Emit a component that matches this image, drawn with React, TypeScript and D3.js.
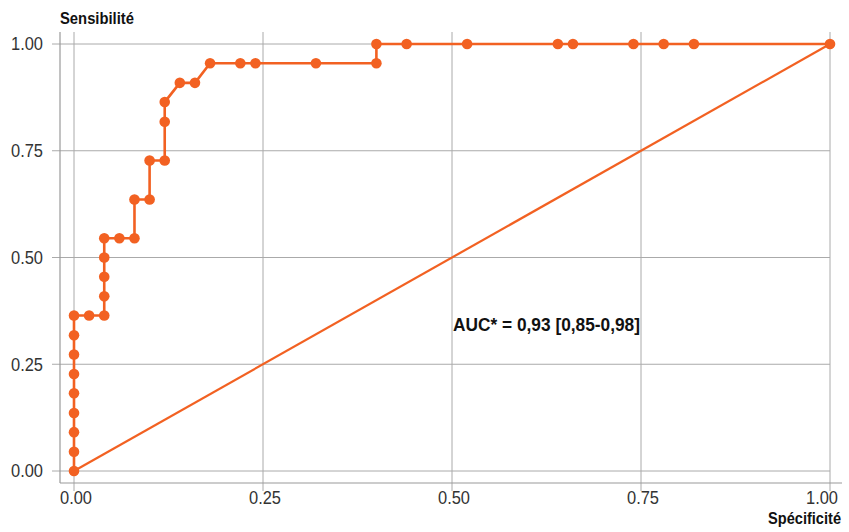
import React from "react";
import * as d3 from "d3";

const specificity = [
  0, 0, 0, 0, 0, 0, 0, 0, 0, 0.02, 0.04, 0.04, 0.04, 0.04, 0.04, 0.06, 0.08, 0.08,
  0.1, 0.1, 0.12, 0.12, 0.12, 0.14, 0.16, 0.18, 0.22, 0.24, 0.32, 0.4, 0.4, 0.44,
  0.52, 0.64, 0.66, 0.74, 0.78, 0.82, 1.0,
];
const sensitivity = [
  0, 0.045, 0.091, 0.136, 0.182, 0.227, 0.273, 0.318, 0.364, 0.364, 0.364, 0.409,
  0.455, 0.5, 0.545, 0.545, 0.545, 0.636, 0.636, 0.727, 0.727, 0.818, 0.864, 0.909,
  0.909, 0.955, 0.955, 0.955, 0.955, 0.955, 1.0, 1.0, 1.0, 1.0, 1.0, 1.0, 1.0, 1.0,
  1.0,
];
const tickValues = [0, 0.25, 0.5, 0.75, 1.0];
const tickLabels = ["0.00", "0.25", "0.50", "0.75", "1.00"];
const yTitle = "Sensibilité";
const xTitle = "Spécificité";
const aucLabel = "AUC* = 0,93 [0,85-0,98]";

const W = 849;
const H = 532;
const ORANGE = "#F26122";
const FONT = "'Liberation Sans Narrow', 'Liberation Sans', Arial, sans-serif";

export default function App() {
  const x = d3.scaleLinear().domain([0, 1]).range([74, 830]);
  const y = d3.scaleLinear().domain([0, 1]).range([471, 44]);
  const pts = specificity.map((s, i) => [s, sensitivity[i]] as [number, number]);
  const line = d3
    .line<[number, number]>()
    .x((d) => x(d[0]))
    .y((d) => y(d[1]));
  const axisLeftX = 60;
  const axisBottomY = 483;
  const panelTop = 32;
  const gridColor = "#aaaaaa";
  const axisColor = "#999999";

  return (
    <svg
      width={W}
      height={H}
      style={{ position: "absolute", left: 0, top: 0, background: "#fff" }}
      fontFamily={FONT}
    >
      <rect x={0} y={0} width={W} height={H} fill="#fff" />
      {/* grid */}
      {tickValues.map((t) => (
        <line
          key={"gx" + t}
          x1={x(t)}
          x2={x(t)}
          y1={panelTop}
          y2={axisBottomY + 8}
          stroke={gridColor}
          strokeWidth={1}
        />
      ))}
      {tickValues.map((t) => (
        <line
          key={"gy" + t}
          x1={axisLeftX - 8}
          x2={x(1)}
          y1={y(t)}
          y2={y(t)}
          stroke={gridColor}
          strokeWidth={1}
        />
      ))}
      {/* axis lines */}
      <line x1={axisLeftX} x2={axisLeftX} y1={panelTop} y2={axisBottomY} stroke={axisColor} strokeWidth={1.2} />
      <line x1={axisLeftX} x2={842} y1={axisBottomY} y2={axisBottomY} stroke={axisColor} strokeWidth={1.2} />
      {/* tick labels */}
      {tickValues.map((t, i) => (
        <text
          key={"ly" + t}
          x={43}
          y={y(t)}
          dy="0.36em"
          textAnchor="end"
          fontSize={18}
          fill="#333"
          textLength={32}
          lengthAdjust="spacingAndGlyphs"
        >
          {tickLabels[i]}
        </text>
      ))}
      {tickValues.map((t, i) => (
        <text
          key={"lx" + t}
          x={x(t) + (i === 4 ? -8 : 2)}
          y={504}
          textAnchor="middle"
          fontSize={18}
          fill="#333"
          textLength={32}
          lengthAdjust="spacingAndGlyphs"
        >
          {tickLabels[i]}
        </text>
      ))}
      {/* diagonal */}
      <line x1={x(0)} y1={y(0)} x2={x(1)} y2={y(1)} stroke={ORANGE} strokeWidth={2.2} />
      {/* ROC */}
      <path d={line(pts) || ""} fill="none" stroke={ORANGE} strokeWidth={2.6} />
      {pts.map((d, i) => (
        <circle key={"p" + i} cx={x(d[0])} cy={y(d[1])} r={5.3} fill={ORANGE} />
      ))}
      {/* texts */}
      <text
        x={453}
        y={331}
        fontSize={18}
        fontWeight="bold"
        fill="#111"
        textLength={187}
        lengthAdjust="spacingAndGlyphs"
      >
        {aucLabel}
      </text>
      <text
        x={60}
        y={24}
        fontSize={17}
        fontWeight="bold"
        fill="#111"
        textLength={74}
        lengthAdjust="spacingAndGlyphs"
      >
        {yTitle}
      </text>
      <text
        x={768}
        y={524}
        fontSize={16}
        fontWeight="bold"
        fill="#111"
        textLength={73}
        lengthAdjust="spacingAndGlyphs"
      >
        {xTitle}
      </text>
    </svg>
  );
}
